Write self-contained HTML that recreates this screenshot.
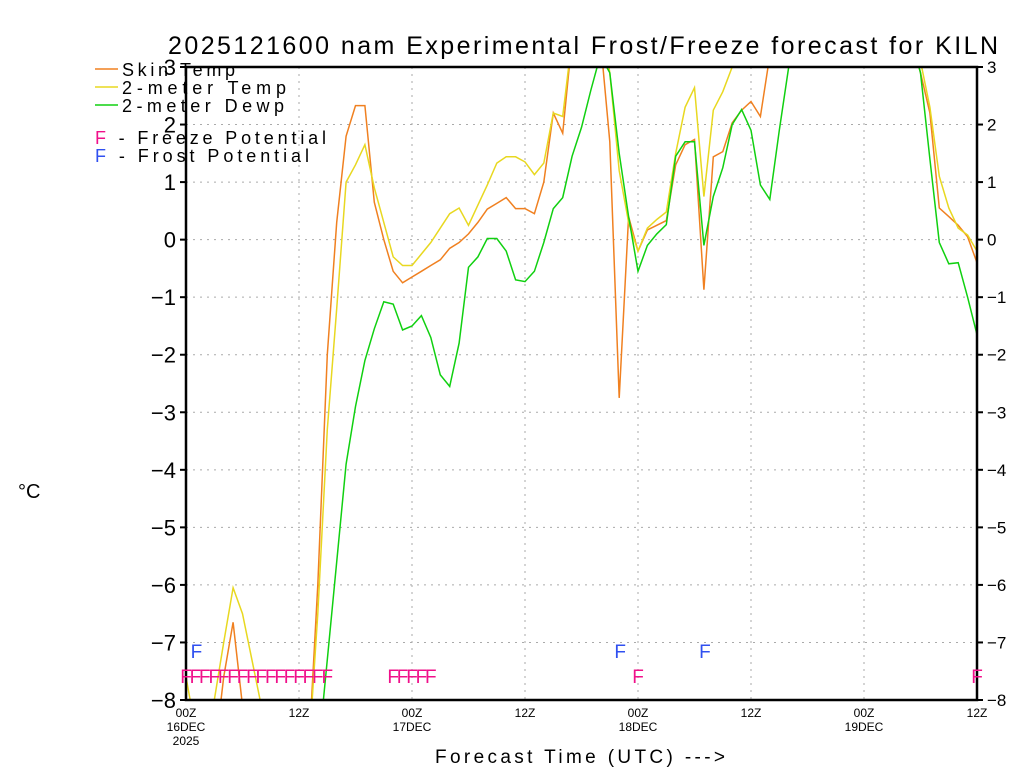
<!DOCTYPE html>
<html><head><meta charset="utf-8"><style>
html,body{margin:0;background:#fff;width:1024px;height:768px;overflow:hidden;}
svg{display:block;font-family:"Liberation Sans",sans-serif;}
</style></head><body>
<svg id="chart" width="1024" height="768" viewBox="0 0 1024 768" overflow="hidden">
<text x="168" y="54" textLength="830" lengthAdjust="spacing" font-size="25">2025121600 nam Experimental Frost/Freeze forecast for KILN</text>
<text x="18" y="498" font-size="20">°C</text>
<text x="435" y="763" textLength="290" lengthAdjust="spacing" font-size="19">Forecast Time (UTC) ---&gt;</text>
<defs><clipPath id="plotclip"><rect x="186" y="67" width="791" height="633"/></clipPath></defs>
<g id="grid"></g>
<g id="series" clip-path="url(#plotclip)"></g>
<g id="axes"></g>
<g id="markers"></g>
<g font-size="18">
 <line x1="95" y1="69" x2="118" y2="69" stroke="#f08020" stroke-width="1.5"/>
 <text x="122" y="76" textLength="113" lengthAdjust="spacing">Skin Temp</text>
 <line x1="95" y1="87" x2="118" y2="87" stroke="#e8d820" stroke-width="1.5"/>
 <text x="122" y="94" textLength="164" lengthAdjust="spacing">2-meter Temp</text>
 <line x1="95" y1="105" x2="118" y2="105" stroke="#10d010" stroke-width="1.5"/>
 <text x="122" y="112" textLength="162" lengthAdjust="spacing">2-meter Dewp</text>
 <text x="95" y="144" textLength="231" lengthAdjust="spacing"><tspan fill="#f0108a">F</tspan> - Freeze Potential</text>
 <text x="95" y="162" textLength="214" lengthAdjust="spacing"><tspan fill="#3050f0">F</tspan> - Frost Potential</text>
</g>
</svg>
<script>
const skinTemp=[-9,-9,-9,-9,-7.6,-6.65,-8.1,-9,-9,-9,-9,-9,-9,-9,-6.0,-2.0,0.3,1.8,2.33,2.33,0.65,0.0,-0.55,-0.75,-0.65,-0.55,-0.45,-0.35,-0.15,-0.05,0.1,0.3,0.53,0.63,0.73,0.54,0.54,0.45,1.0,2.2,1.85,3.5,4,4,3.5,1.7,-2.75,0.4,-0.2,0.17,0.25,0.33,1.3,1.65,1.74,-0.87,1.44,1.53,2.03,2.25,2.4,2.14,3.2,4,4,4,4,4,4,4,4,4,4,4,4,4,4,3.5,2.9,2.2,0.55,0.4,0.25,0.05,-0.4];
const airTemp=[-7.6,-8.5,-9,-8.0,-7.0,-6.05,-6.5,-7.3,-8.1,-9,-9,-9,-9,-9,-6.5,-3.3,-1.2,1.0,1.3,1.65,0.9,0.3,-0.3,-0.45,-0.45,-0.25,-0.05,0.2,0.45,0.55,0.25,0.6,0.95,1.33,1.44,1.44,1.35,1.13,1.33,2.2,2.14,3.5,4,4,4,2.9,1.2,0.3,-0.2,0.2,0.35,0.48,1.5,2.3,2.64,0.75,2.25,2.57,3.0,3.5,4,4,4,4,4,4,4,4,4,4,4,4,4,4,4,4,4,3.6,3.1,2.3,1.1,0.55,0.2,0.08,-0.2];
const dewPoint=[-9,-9,-9,-9,-9,-9,-9,-9,-9,-9,-9,-9,-9,-9,-9,-7.3,-5.6,-3.9,-2.9,-2.1,-1.55,-1.08,-1.12,-1.57,-1.5,-1.32,-1.7,-2.35,-2.55,-1.8,-0.48,-0.3,0.02,0.02,-0.2,-0.7,-0.73,-0.55,-0.05,0.54,0.73,1.45,1.95,2.6,3.2,2.9,1.5,0.4,-0.55,-0.1,0.1,0.26,1.45,1.7,1.7,-0.1,0.75,1.25,2.0,2.26,1.9,0.95,0.7,1.9,3.0,4,4,4,4,4,4,4,4,4,4,4,4,3.5,2.9,1.4,-0.05,-0.42,-0.4,-1.0,-1.65];
const freezeHours=[0,1,2,3,4,5,6,7,8,9,10,11,12,13,14,15,22,23,24,25,26,48,84];
const frostHours=[1,46,55];
const yTicks=[-8,-7,-6,-5,-4,-3,-2,-1,0,1,2,3];
const xTickHours=[0,12,24,36,48,60,72,84];
const xTickLabels=["00Z","12Z","00Z","12Z","00Z","12Z","00Z","12Z"];
const xDateLabels=["16DEC","","17DEC","","18DEC","","19DEC",""];

const NS="http://www.w3.org/2000/svg";
const X0=186,X1=977,Y0=700,Y1=67,YMIN=-8,YMAX=3,HMAX=84;
function xs(h){return X0+(X1-X0)*h/HMAX;}
function ys(v){return Y0-(Y0-Y1)*(v-YMIN)/(YMAX-YMIN);}
function mk(tag,attrs,parent){const e=document.createElementNS(NS,tag);for(const k in attrs)e.setAttribute(k,attrs[k]);parent.appendChild(e);return e;}
const grid=document.getElementById('grid'),axes=document.getElementById('axes'),ser=document.getElementById('series'),mkr=document.getElementById('markers');
yTicks.forEach(v=>{
  const g=mk('line',{x1:X0,x2:X1,y1:ys(v),y2:ys(v),stroke:'#aaa','stroke-dasharray':'2,5'},grid);
  
  
  const t1=mk('line',{x1:X0-6,x2:X0,y1:ys(v),y2:ys(v),stroke:'#000','stroke-width':2},axes);
  
  
  const t2=mk('line',{x1:X1,x2:X1+6,y1:ys(v),y2:ys(v),stroke:'#000','stroke-width':2},axes);
  
  
  const lab=(v<0?'\u2212':'')+Math.abs(v);
  const l=mk('text',{x:X0-10,y:ys(v)+8,'text-anchor':'end','font-size':22},axes);l.textContent=lab;
  
  
  const r=mk('text',{x:X1+10,y:ys(v)+6,'font-size':17},axes);r.textContent=lab;
  
  
});
xTickHours.forEach((h,i)=>{
  if(i>0&&i<xTickHours.length-1){const g=mk('line',{x1:xs(h),x2:xs(h),y1:Y1,y2:Y0,stroke:'#aaa','stroke-dasharray':'2,5'},grid);
  
  }
  const t=mk('text',{x:xs(h),y:717,'text-anchor':'middle','font-size':12},axes);t.textContent=xTickLabels[i];
  
  
  if(xDateLabels[i]){const d=mk('text',{x:xs(h),y:731,'text-anchor':'middle','font-size':12},axes);d.textContent=xDateLabels[i];
  
  }
});
const yr=mk('text',{x:186,y:745,'text-anchor':'middle','font-size':12},axes);yr.textContent='2025';


const frame=mk('rect',{x:X0,y:Y1,width:X1-X0,height:Y0-Y1,fill:'none',stroke:'#000','stroke-width':2.5},axes);


[[skinTemp,'#f08020','skin-temp-line'],[airTemp,'#e8d820','2m-temp-line'],[dewPoint,'#10d010','2m-dewpoint-line']].forEach(([arr,c,n])=>{
  const p=mk('polyline',{points:arr.map((v,h)=>xs(h).toFixed(1)+','+ys(v).toFixed(1)).join(' '),fill:'none',stroke:c,'stroke-width':1.5},ser);
  
  
});
freezeHours.forEach(h=>{
  const t=mk('text',{x:xs(h),y:683,'text-anchor':'middle','font-size':19,fill:'#f0108a'},mkr);t.textContent='F';
  
  
});
frostHours.forEach(h=>{
  const t=mk('text',{x:xs(h)+1,y:658,'text-anchor':'middle','font-size':19,fill:'#3050f0'},mkr);t.textContent='F';
  
  
});
</script>
</body></html>
